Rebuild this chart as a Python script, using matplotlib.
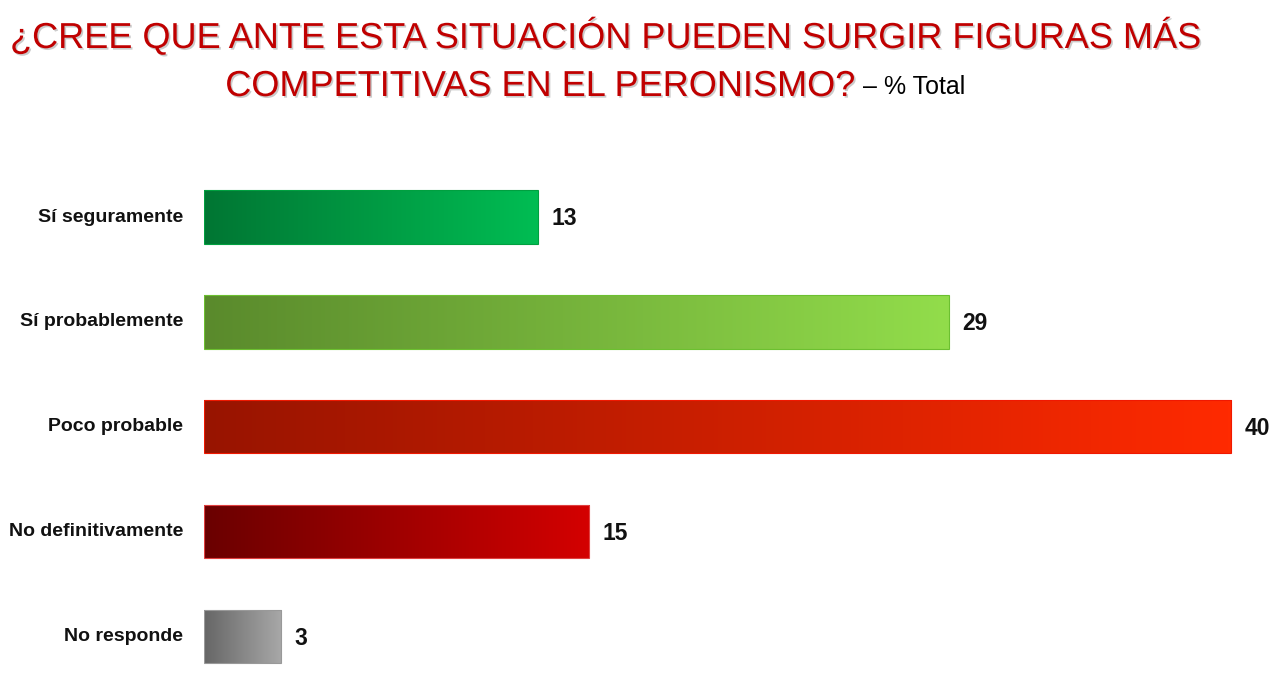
import numpy as np
import matplotlib as mpl
from matplotlib import pyplot as plt
from matplotlib.colors import LinearSegmentedColormap
import matplotlib.patheffects as pe

categories = ["Sí seguramente", "Sí probablemente", "Poco probable",
              "No definitivamente", "No responde"]
values = [13, 29, 40, 15, 3]
# left / right colour of each bar's horizontal gradient
grad_left = ["#007633", "#5A8A2C", "#981400", "#6A0000", "#666666"]
grad_right = ["#00BD53", "#92DD4B", "#FF2A00", "#D40000", "#A8A8A8"]
edge_colors = ["#00A040", "#6CC030", "#F01800", "#E04040", "#999999"]

title_1 = "¿CREE QUE ANTE ESTA SITUACIÓN PUEDEN SURGIR FIGURAS MÁS"
title_2 = "COMPETITIVAS EN EL PERONISMO?"
title_suffix = "– % Total"

if __name__ == "__main__":
    W, H = 1280, 684
    mpl.rcParams["font.family"] = ["Liberation Sans", "DejaVu Sans"]
    fig = plt.figure(figsize=(W / 100, H / 100), dpi=100)

    # axes placed in pixel terms: left edge at x=204, bars 105 px apart
    ax = fig.add_axes([204 / W, 4 / H, 1076 / W, 520 / H])
    ax.axis("off")

    shadow = [pe.withSimplePatchShadow(offset=(1.2, -1.2),
                                       shadow_rgbFace="#999999", alpha=0.5)]
    fig.text(10 / W, 1 - 48 / H, title_1, color="#C00000", fontsize=26,
             ha="left", va="baseline", path_effects=shadow)
    fig.text(856 / W, 1 - 96 / H, title_2, color="#C00000", fontsize=26,
             ha="right", va="baseline", path_effects=shadow)
    fig.text(863 / W, 1 - 94 / H, title_suffix, color="black", fontsize=18,
             ha="left", va="baseline")

    height = 0.505
    ypos = np.arange(len(categories))
    bars = ax.barh(ypos, values, height=height, color="none",
                   edgecolor=edge_colors, linewidth=0.8, zorder=3)
    grad = np.linspace(0, 1, 256).reshape(1, -1)
    for i, (bar, val) in enumerate(zip(bars, values)):
        cmap = LinearSegmentedColormap.from_list(
            f"g{i}", [grad_left[i], grad_right[i]])
        x0, y0 = bar.get_x(), bar.get_y()
        im = ax.imshow(grad, cmap=cmap, aspect="auto", zorder=2,
                       extent=[x0, x0 + bar.get_width(), y0 + bar.get_height(), y0])
        im.set_clip_path(bar)
        ax.text(val + 0.52, ypos[i] + 0.01, f"{val}", fontsize=16.5,
                fontweight="bold", ha="left", va="center", color="#111111")
        ax.text(-0.82, ypos[i], categories[i], fontsize=14,
                fontweight="bold", ha="right", va="center", color="#111111")
    ax.set_xlim(0, 1076 / 25.68)
    ax.set_ylim(4.41, -0.543)

    plt.savefig("out.png", dpi=100)
    plt.close()
